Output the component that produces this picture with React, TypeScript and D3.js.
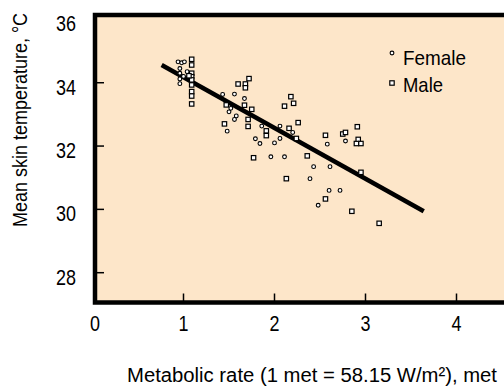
import { useRef, useEffect } from 'react';
import * as d3 from 'd3';

// Female and male points: [metabolic rate (met), mean skin temperature (°C)]
const female: [number, number][] = [
  [0.94, 34.66], [0.98, 34.63], [1.01, 34.66], [0.96, 34.45], [0.96, 34.30],
  [0.96, 34.12], [0.96, 33.97], [1.04, 34.35], [1.00, 34.20],
  [1.43, 33.63], [1.56, 33.64], [1.67, 33.50], [1.52, 33.19], [1.50, 33.08],
  [1.58, 32.95], [1.56, 32.84], [1.48, 32.47], [1.79, 32.23], [1.84, 32.08],
  [1.86, 32.63], [1.96, 31.66], [2.00, 32.10], [2.06, 32.24], [2.06, 32.63],
  [2.11, 31.66], [2.20, 32.43], [2.39, 30.97], [2.43, 31.35], [2.58, 32.06],
  [2.61, 31.35], [2.60, 30.60], [2.72, 30.60], [2.48, 30.13], [2.78, 32.16]
];

const male: [number, number][] = [
  [1.09, 34.74], [1.09, 34.56], [1.09, 34.30], [1.09, 34.19], [1.09, 34.09],
  [1.09, 33.93], [1.09, 33.72], [1.09, 33.58], [1.09, 33.33], [1.06, 34.22],
  [1.60, 33.96], [1.68, 33.96], [1.68, 33.84], [1.72, 34.13], [1.45, 32.70],
  [1.47, 33.30], [1.67, 33.29], [1.75, 33.16], [1.71, 32.84], [1.71, 32.62],
  [1.91, 32.48], [1.91, 32.33], [1.77, 31.63], [2.11, 33.26], [2.18, 33.56],
  [2.21, 33.35], [2.26, 32.74], [2.16, 32.56], [2.24, 32.24], [2.36, 31.69],
  [2.13, 30.97], [2.56, 32.34], [2.75, 32.38], [2.78, 32.43], [2.91, 32.61],
  [2.92, 32.21], [2.90, 32.08], [2.95, 32.08], [2.95, 31.17], [2.56, 30.33],
  [2.85, 29.94], [3.15, 29.56]
];

// regression line end points
const fitLine: [number, number][] = [[0.76, 34.56], [3.64, 29.94]];

const xTicks = [0, 1, 2, 3, 4];
const yTicks = [28, 30, 32, 34, 36];

// condensed look: Liberation Sans squeezed with textLength
const FONT = '"Liberation Sans", Arial, sans-serif';

export default function App() {
  const ref = useRef<SVGSVGElement>(null);

  useEffect(() => {
    if (!ref.current) return;
    const width = 504;
    const height = 387;
    const svg = d3.select(ref.current)
      .attr('width', width)
      .attr('height', height);
    svg.selectAll('*').remove();

    const x = d3.scaleLinear().domain([0, 4]).range([92.5, 456.5]);
    const y = d3.scaleLinear().domain([28, 36]).range([272.7, 19.4]);

    const frame = { left: 95, top: 15, right: 530, bottom: 302.5 };

    // background + frame
    svg.append('rect')
      .attr('x', frame.left)
      .attr('y', frame.top)
      .attr('width', frame.right - frame.left)
      .attr('height', frame.bottom - frame.top)
      .attr('fill', '#fde6c9')
      .attr('stroke', '#000')
      .attr('stroke-width', 4.5);

    // ticks (inside)
    svg.selectAll('.xtick')
      .data(xTicks.filter(d => d > 0))
      .join('line')
      .attr('x1', d => x(d))
      .attr('x2', d => x(d))
      .attr('y1', frame.bottom)
      .attr('y2', frame.bottom - 9)
      .attr('stroke', '#000')
      .attr('stroke-width', 1.5);

    svg.selectAll('.ytick')
      .data(yTicks.filter(d => d < 36))
      .join('line')
      .attr('x1', frame.left)
      .attr('x2', frame.left + 9)
      .attr('y1', d => y(d))
      .attr('y2', d => y(d))
      .attr('stroke', '#000')
      .attr('stroke-width', 1.5);

    // tick labels
    svg.selectAll('.xlab')
      .data(xTicks)
      .join('text')
      .attr('x', d => x(d) + (d === 0 ? 2.5 : 0) - 5)
      .attr('y', 331)
      .attr('textLength', 10)
      .attr('lengthAdjust', 'spacingAndGlyphs')
      .style('font-family', FONT)
      .style('font-size', '22px')
      .text(d => d);

    svg.selectAll('.ylab')
      .data(yTicks)
      .join('text')
      .attr('x', 56)
      .attr('y', d => y(d) + 12)
      .attr('textLength', 20)
      .attr('lengthAdjust', 'spacingAndGlyphs')
      .style('font-family', FONT)
      .style('font-size', '22px')
      .text(d => d);

    // regression line
    svg.append('path')
      .datum(fitLine)
      .attr('fill', 'none')
      .attr('stroke', '#000')
      .attr('stroke-width', 4.5)
      .attr('d', d3.line<[number, number]>().x(d => x(d[0])).y(d => y(d[1])));

    // points
    svg.selectAll('.female')
      .data(female)
      .join('circle')
      .attr('cx', d => x(d[0]))
      .attr('cy', d => y(d[1]))
      .attr('r', 1.9)
      .attr('fill', '#fff')
      .attr('stroke', '#000')
      .attr('stroke-width', 1.1);

    const sq = 4.4;
    svg.selectAll('.male')
      .data(male)
      .join('rect')
      .attr('x', d => x(d[0]) - sq / 2)
      .attr('y', d => y(d[1]) - sq / 2)
      .attr('width', sq)
      .attr('height', sq)
      .attr('fill', '#fff')
      .attr('stroke', '#000')
      .attr('stroke-width', 1.2);

    // legend
    svg.append('circle')
      .attr('cx', 392).attr('cy', 53).attr('r', 1.9)
      .attr('fill', '#fff').attr('stroke', '#000').attr('stroke-width', 1.1);
    svg.append('rect')
      .attr('x', 392 - sq / 2).attr('y', 83 - sq / 2).attr('width', sq).attr('height', sq)
      .attr('fill', '#fff').attr('stroke', '#000').attr('stroke-width', 1.2);
    svg.append('text')
      .attr('x', 403).attr('y', 65)
      .attr('textLength', 63)
      .attr('lengthAdjust', 'spacingAndGlyphs')
      .style('font-family', FONT).style('font-size', '21px')
      .text('Female');
    svg.append('text')
      .attr('x', 403).attr('y', 92)
      .attr('textLength', 40)
      .attr('lengthAdjust', 'spacingAndGlyphs')
      .style('font-family', FONT).style('font-size', '21px')
      .text('Male');

    // axis titles
    svg.append('text')
      .attr('x', 127)
      .attr('y', 382)
      .attr('textLength', 370)
      .attr('lengthAdjust', 'spacingAndGlyphs')
      .style('font-family', FONT)
      .style('font-size', '20px')
      .text('Metabolic rate (1 met = 58.15 W/m²), met');

    svg.append('text')
      .attr('transform', 'translate(27,120) rotate(-90) scale(0.9,1)')
      .attr('text-anchor', 'middle')
      .style('font-family', FONT)
      .style('font-size', '20px')
      .text('Mean skin temperature, °C');
  }, []);

  return (
    <div style={{ position: 'absolute', left: 0, top: 0, background: '#fff' }}>
      <svg ref={ref} style={{ display: 'block' }}></svg>
    </div>
  );
}
